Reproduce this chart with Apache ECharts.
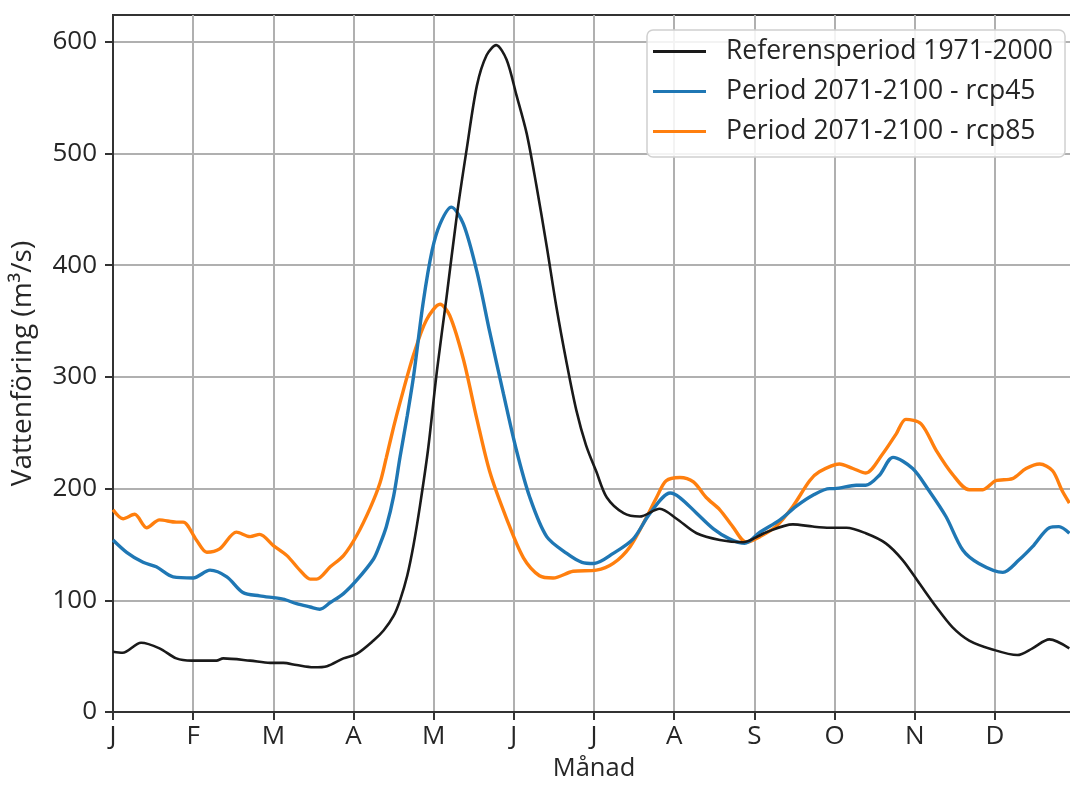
<!DOCTYPE html>
<html>
<head>
<meta charset="utf-8">
<script src="https://cdn.jsdelivr.net/npm/echarts@6/dist/echarts.min.js"></script>
<style>html,body{margin:0;padding:0;background:#fff}#c{width:1070px;height:789px}</style>
</head>
<body>
<div id="c"></div>
<script>
// Month index (0 = start of January) and flow values (m³/s)
const monthLabels = ['J','F','M','A','M','J','J','A','S','O','N','D'];
const seriesNames = ['Referensperiod 1971-2000','Period 2071-2100 - rcp45','Period 2071-2100 - rcp85'];

const refMonth = [0,0.12,0.35,0.58,0.79,0.98,1.29,1.375,1.71,1.96,2.125,2.29,2.5,2.67,2.875,3.04,3.25,3.375,3.5,3.58,3.67,3.75,3.83,3.93,4.04,4.16,4.29,4.41,4.54,4.66,4.78,4.91,5.03,5.16,5.28,5.41,5.53,5.66,5.78,5.90,6.03,6.16,6.37,6.57,6.82,7.03,7.28,7.57,7.86,8.15,8.48,8.73,8.94,9.15,9.39,9.64,9.85,10.06,10.27,10.47,10.68,10.97,11.28,11.47,11.68,11.93];
const refFlow  = [54,53,62,57,48,46,46,48,46,44,44,42,40,41,48,52,64,73,86,100,122,150,185,235,305,371,445,503,561,588,597,584,553,518,472,417,363,312,270,239,215,192,178,175,182,173,160,154,152,161,168,166,165,165,160,151,136,115,94,76,64,56,51,57,65,57];

const rcp45Month = [0,0.17,0.375,0.54,0.75,1.0,1.21,1.42,1.62,1.83,2.12,2.29,2.46,2.58,2.71,2.875,3.04,3.25,3.33,3.41,3.5,3.58,3.67,3.75,3.87,3.98,4.08,4.22,4.37,4.54,4.70,4.87,5.03,5.2,5.41,5.66,5.85,6.0,6.24,6.49,6.70,6.95,7.07,7.28,7.49,7.69,7.88,8.07,8.32,8.52,8.73,8.94,9.0,9.27,9.39,9.56,9.73,9.975,10.18,10.39,10.6,10.8,11.1,11.3,11.47,11.68,11.8,11.93];
const rcp45Flow  = [154,143,134,130,121,120,127,121,107,104,101,97,94,92,98,106,118,137,150,166,193,228,265,301,367,413,437,452,437,394,340,285,235,192,157,142,134,133,142,155,178,196,192,178,164,155,151,161,172,184,194,200,200,203,203,212,228,218,198,175,145,133,125,136,148,165,166,160];

const rcp85Month = [0,0.125,0.27,0.42,0.58,0.79,0.875,1.04,1.17,1.33,1.54,1.71,1.83,2.0,2.17,2.33,2.46,2.54,2.71,2.875,3.04,3.21,3.33,3.41,3.5,3.58,3.75,3.91,4.08,4.20,4.37,4.54,4.70,4.91,5.12,5.32,5.49,5.74,6.03,6.24,6.45,6.66,6.78,6.90,7.07,7.24,7.40,7.57,7.73,7.90,8.07,8.27,8.48,8.69,8.81,9.06,9.23,9.39,9.60,9.77,9.89,10.08,10.27,10.47,10.68,10.85,11.01,11.22,11.39,11.56,11.72,11.84,11.93];
const rcp85Flow  = [181,173,177,165,172,170,170,154,143,146,161,157,159,149,140,127,119,119,130,140,158,183,205,228,255,277,320,351,365,355,316,262,215,173,138,122,120,126,127,133,148,175,192,207,210,206,192,181,166,152,157,166,184,207,215,222,218,214,231,249,262,258,234,213,199,199,207,209,218,222,216,198,187];

const yTicks = [0,100,200,300,400,500,600];

function pairs(xs, ys){ return xs.map((x,i)=>[x, ys[i]]); }

const FONT = 'Open Sans';
const chart = echarts.init(document.getElementById('c'), null, {renderer:'canvas'});
chart.setOption({
  backgroundColor:'#fff',
  animation:false,
  grid:{left:113, top:15, width:962, height:697, containLabel:false, outerBoundsMode:'none',
        show:true, borderColor:'#333', borderWidth:2, backgroundColor:'transparent'},
  xAxis:{
    type:'value', min:0, max:12, interval:1,
    name:'Månad', nameLocation:'middle', nameGap:44,
    nameTextStyle:{fontFamily:FONT, fontSize:25.5, color:'#262626'},
    axisLine:{lineStyle:{color:'#333', width:2}},
    axisTick:{show:true, length:8, lineStyle:{color:'#333', width:2}},
    axisLabel:{fontFamily:FONT, fontSize:26, color:'#262626', margin:12,
      formatter:v => (Number.isInteger(v) && v < 12) ? monthLabels[v] : ''},
    splitLine:{show:true, lineStyle:{color:'#b0b0b0', width:2}}
  },
  yAxis:{
    type:'value', min:0, max:624, interval:100,
    name:'Vattenföring (m³/s)', nameLocation:'middle', nameGap:76,
    nameTextStyle:{fontFamily:FONT, fontSize:28, color:'#262626'},
    axisLine:{show:true, lineStyle:{color:'#333', width:2}},
    axisTick:{show:true, length:8, customValues:yTicks, lineStyle:{color:'#333', width:2}},
    axisLabel:{fontFamily:FONT, fontSize:26, color:'#262626', margin:16, customValues:yTicks,
      formatter:v => yTicks.includes(v) ? String(v) : ''},
    splitLine:{show:true, lineStyle:{color:'#b0b0b0', width:2}}
  },
  legend:{
    orient:'vertical', left:647, top:30,
    icon:'rect', itemWidth:53, itemHeight:3, itemGap:13,
    padding:[8,12,12,6],
    backgroundColor:'rgba(255,255,255,0.85)',
    borderColor:'#d0d0d0', borderWidth:1.5, borderRadius:6,
    textStyle:{fontFamily:FONT, fontSize:26.5, color:'#262626', lineHeight:26, padding:[0,0,0,15]},
    data:seriesNames
  },
  series:[
    {name:seriesNames[0], type:'line', data:pairs(refMonth, refFlow), showSymbol:false, symbol:'none', smooth:0.3,
      lineStyle:{color:'#1a1a1a', width:2.6}, itemStyle:{color:'#1a1a1a'}, z:3},
    {name:seriesNames[1], type:'line', data:pairs(rcp45Month, rcp45Flow), showSymbol:false, symbol:'none', smooth:0.3,
      lineStyle:{color:'#1f77b4', width:3.4}, itemStyle:{color:'#1f77b4'}, z:2},
    {name:seriesNames[2], type:'line', data:pairs(rcp85Month, rcp85Flow), showSymbol:false, symbol:'none', smooth:0.3,
      lineStyle:{color:'#ff7f0e', width:3.4}, itemStyle:{color:'#ff7f0e'}, z:1}
  ]
});
</script>
</body>
</html>
